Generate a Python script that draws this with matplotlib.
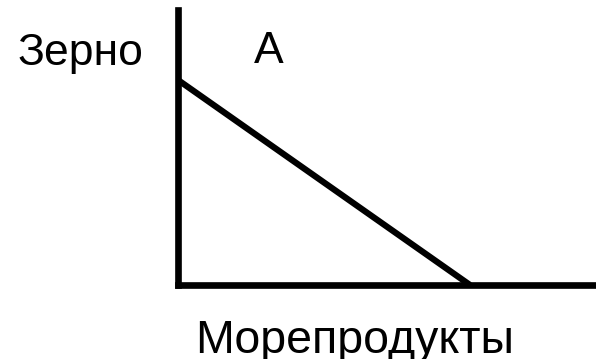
import matplotlib
matplotlib.use("Agg")
import matplotlib.pyplot as plt

plt.rcParams["font.family"] = ["Liberation Sans", "DejaVu Sans"]

# кривая производственных возможностей: Зерно vs Морепродукты
seafood = [0, 10]
grain = [10, 0]
x_label = "Морепродукты"
y_label = "Зерно"
point_label = "A"

W, H = 596, 359
fig = plt.figure(figsize=(W / 100, H / 100), dpi=100)
ax = fig.add_axes([178 / W, 74 / H, 418 / W, 275 / H])

ax.plot(seafood, grain, color="black", linewidth=4.5, solid_capstyle="butt")
ax.set_xlim(0, 10 * 418 / 292)
ax.set_ylim(0, 10 * 275 / 205)

for side in ["top", "right"]:
    ax.spines[side].set_visible(False)
for side in ["left", "bottom"]:
    ax.spines[side].set_linewidth(4.8)
    ax.spines[side].set_capstyle("projecting")
ax.set_xticks([])
ax.set_yticks([])
ax.patch.set_visible(False)

# подписи (положение по базовой линии текста)
fig.text(143 / W, 1 - 65 / H, y_label, fontsize=32, ha="right", va="baseline")
fig.text(269 / W, 1 - 63 / H, point_label, fontsize=32, ha="center", va="baseline")
fig.text(355 / W, 1 - 353 / H, x_label, fontsize=33.5, ha="center", va="baseline")

fig.savefig("out.png", dpi=100)
